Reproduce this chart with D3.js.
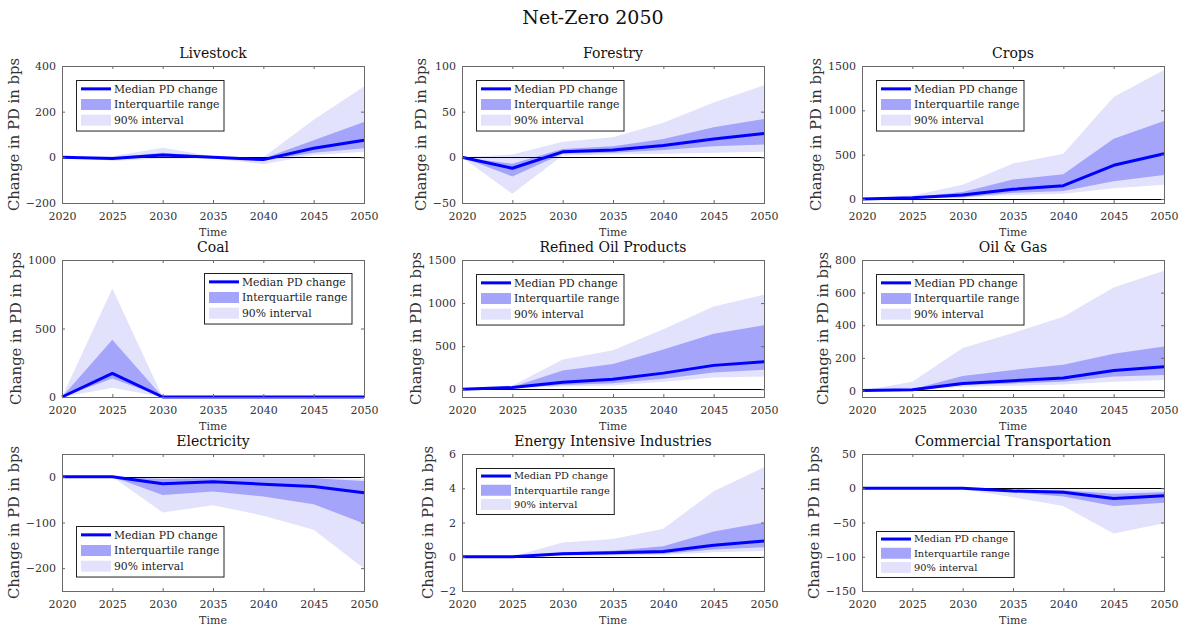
<!DOCTYPE html>
<html lang="en">
<head>
<meta charset="UTF-8">
<title>Net-Zero 2050</title>
<script src="https://cdnjs.cloudflare.com/ajax/libs/d3/7.8.4/d3.min.js"></script>
<style>
  body { margin: 0; background: #fff; }
  svg text { font-family: "DejaVu Serif", "Liberation Serif", serif; }
</style>
</head>
<body>
<div id="chart"></div>
<script>
// ---- data ----
const years = [2020, 2025, 2030, 2035, 2040, 2045, 2050];
const sectors = ["Livestock", "Forestry", "Crops", "Coal", "Refined Oil Products", "Oil & Gas",
  "Electricity", "Energy Intensive Industries", "Commercial Transportation"];

const medianPD = [
  [0, -5, 10, 0, -10, 40, 75],
  [0, -12, 6, 8, 13, 20, 26],
  [0, 15, 45, 110, 150, 380, 510],
  [0, 172, 0, 0, 0, 0, 0],
  [0, 20, 82, 117, 187, 277, 320],
  [0, 5, 43, 60, 76, 122, 146],
  [0, 0, -15, -11, -16, -21, -35],
  [0, 0, 0.17, 0.23, 0.3, 0.67, 0.92],
  [0, 0, 0, -4, -6, -15, -11]
];
const iqrLow = [
  [0, -8, 0, -3, -15, 20, 40],
  [0, -21, 4, 5, 8, 12, 14],
  [0, 10, 20, 70, 90, 200, 270],
  [0, 135, 0, 0, 0, 0, 0],
  [0, 15, 50, 70, 121, 195, 227],
  [0, 3, 33, 43, 54, 85, 95],
  [0, 0, -40, -32, -43, -60, -102],
  [0, 0, 0.1, 0.13, 0.18, 0.42, 0.56],
  [0, 0, 0, -6, -12, -26, -21]
];
const iqrHigh = [
  [0, -2, 20, 3, -5, 75, 155],
  [0, -7, 9, 12, 20, 33, 42],
  [0, 20, 80, 220, 280, 680, 880],
  [0, 418, 0, 0, 0, 0, 0],
  [0, 25, 219, 293, 461, 645, 742],
  [0, 8, 89, 126, 157, 225, 270],
  [0, 0, -5, -3, -3, -3, -9],
  [0, 0, 0.25, 0.35, 0.62, 1.48, 2.0],
  [0, 0, 0, -2, -3, -8, -6]
];
const p5 = [
  [0, -15, -5, -5, -30, 10, 25],
  [0, -40, 2, 3, 4, 5, 6],
  [0, 5, 15, 45, 60, 120, 160],
  [0, 68, 0, 0, 0, 0, 0],
  [0, 10, 31, 43, 86, 137, 148],
  [0, 1, 23, 29, 37, 54, 64],
  [0, 0, -78, -62, -85, -116, -201],
  [0, 0, 0.05, 0.07, 0.1, 0.27, 0.33],
  [0, 0, -1, -13, -26, -66, -51]
];
const p95 = [
  [0, 5, 42, 5, 0, 165, 310],
  [0, 3, 17, 22, 38, 60, 79],
  [0, 40, 160, 400, 510, 1150, 1455],
  [0, 792, 0, 0, 0, 0, 0],
  [0, 40, 344, 453, 695, 961, 1098],
  [0, 54, 260, 353, 452, 631, 734],
  [0, 0, -1, -1, -1, -1, -5],
  [0, 0.02, 0.83, 1.04, 1.63, 3.83, 5.23],
  [0, 0, 0, -1, -1, -3, -3]
];
const yLimits = [[-200, 400], [-50, 100], [-45, 1500], [0, 1000], [-90, 1500], [-40, 800],
  [-250, 50], [-2, 6], [-150, 50]];
const yTicks = [
  [-200, 0, 200, 400], [-50, 0, 50, 100], [0, 500, 1000, 1500], [0, 500, 1000],
  [0, 500, 1000, 1500], [0, 200, 400, 600, 800], [-200, -100, 0], [-2, 0, 2, 4, 6],
  [-150, -100, -50, 0, 50]
];
const legendLabels = ["Median PD change", "Interquartile range", "90% interval"];

// ---- layout ----
const W = 1186, H = 630;
const colLeft = [62, 462, 862];
const rowTop = [66, 260, 454];
const plotW = 302, plotH = 137;
const legendCorner = ["nw", "nw", "nw", "ne", "nw", "nw", "sw", "nw", "sw"];
const legendFont = [10.8, 10.8, 10.8, 10.8, 10.8, 10.8, 10.8, 9.8, 9.8];
const serif = '"DejaVu Serif", "Liberation Serif", serif';

const blue = "#0000ff", iqrColor = "#a4a4fa", band90 = "#e2e2fc";
const frameColor = "#6a6a6a", textColor = "#333";

const svg = d3.select("#chart").append("svg")
  .attr("width", W).attr("height", H);

svg.append("text")
  .attr("x", 593).attr("y", 24)
  .attr("text-anchor", "middle")
  .attr("font-size", 19)
  .attr("fill", "#111")
  .text("Net-Zero 2050");

sectors.forEach((name, i) => {
  const col = i % 3, row = Math.floor(i / 3);
  const left = colLeft[col], top = rowTop[row];

  const x = d3.scaleLinear().domain([2020, 2050]).range([0, plotW]);
  const y = d3.scaleLinear().domain(yLimits[i]).range([plotH, 0]);

  const g = svg.append("g").attr("transform", `translate(${left},${top})`);

  g.append("clipPath").attr("id", "clip" + i)
    .append("rect").attr("width", plotW).attr("height", plotH);

  g.append("rect").attr("width", plotW).attr("height", plotH).attr("fill", "#fff");

  const plot = g.append("g").attr("clip-path", `url(#clip${i})`);

  const idx = d3.range(years.length);
  const band = (lo, hi) => d3.area()
    .x(k => x(years[k]))
    .y0(k => y(lo[k]))
    .y1(k => y(hi[k]));

  plot.append("path")
    .attr("d", band(p5[i], p95[i])(idx))
    .attr("fill", band90);
  plot.append("path")
    .attr("d", band(iqrLow[i], iqrHigh[i])(idx))
    .attr("fill", iqrColor);

  plot.append("line")
    .attr("x1", 0).attr("x2", plotW)
    .attr("y1", Math.round(y(0)) + 0.5).attr("y2", Math.round(y(0)) + 0.5)
    .attr("stroke", "#000").attr("stroke-width", 1);

  g.append("path")
    .attr("d", d3.line().x(k => x(years[k])).y(k => y(medianPD[i][k]))(idx))
    .attr("fill", "none")
    .attr("stroke", blue)
    .attr("stroke-width", 3)
    .attr("stroke-linejoin", "round");

  // axes (ticks inward, on all sides)
  g.append("g").attr("transform", `translate(0,${plotH})`)
    .call(d3.axisBottom(x).tickValues(years).tickFormat(d3.format("d"))
      .tickSizeInner(-3).tickSizeOuter(0).tickPadding(9));
  g.append("g").call(d3.axisTop(x).tickValues(years).tickFormat("")
    .tickSizeInner(-3).tickSizeOuter(0));
  const ya = g.append("g")
    .call(d3.axisLeft(y).tickValues(yTicks[i]).tickFormat(d3.format("d"))
      .tickSizeInner(-3).tickSizeOuter(0).tickPadding(6));
  g.append("g").attr("transform", `translate(${plotW},0)`)
    .call(d3.axisRight(y).tickValues(yTicks[i]).tickFormat("")
      .tickSizeInner(-3).tickSizeOuter(0));

  g.selectAll(".domain").remove();
  g.selectAll(".tick line").attr("stroke", frameColor);
  g.selectAll(".tick text")
    .style("font-family", serif)
    .style("font-size", "11px")
    .attr("fill", textColor);

  g.append("rect")
    .attr("x", 0.5).attr("y", 0.5)
    .attr("width", plotW).attr("height", plotH)
    .attr("fill", "none").attr("stroke", frameColor);

  // labels
  const tickLeft = ya.node().getBBox().x;
  g.append("text")
    .attr("transform", `translate(${tickLeft - 7},${plotH / 2}) rotate(-90)`)
    .attr("text-anchor", "middle")
    .attr("font-size", 14.8)
    .attr("fill", textColor)
    .text("Change in PD in bps");

  g.append("text")
    .attr("x", plotW / 2).attr("y", plotH + 33)
    .attr("text-anchor", "middle")
    .attr("font-size", 11)
    .attr("fill", textColor)
    .text("Time");

  g.append("text")
    .attr("x", plotW / 2).attr("y", -8.5)
    .attr("text-anchor", "middle")
    .attr("font-size", 14)
    .attr("fill", "#111")
    .text(name);

  // legend
  const fs = legendFont[i];
  const rowH = fs * 1.45;
  const pad = fs * 0.82;
  const leg = g.append("g");
  const box = leg.append("rect").attr("fill", "#fff").attr("stroke", "#222").attr("stroke-width", 1);
  let maxW = 0;
  legendLabels.forEach((lab, r) => {
    const cy = pad + r * rowH;
    if (r === 0) {
      leg.append("line").attr("x1", 5).attr("x2", 35).attr("y1", cy).attr("y2", cy)
        .attr("stroke", blue).attr("stroke-width", 3);
    } else {
      leg.append("rect").attr("x", 5).attr("y", cy - 5.5).attr("width", 30).attr("height", 11)
        .attr("fill", r === 1 ? iqrColor : band90);
    }
    const t = leg.append("text").attr("x", 38).attr("y", cy).attr("dy", "0.35em")
      .style("font-family", serif)
      .attr("font-size", fs).attr("fill", "#222").text(lab);
    maxW = Math.max(maxW, t.node().getComputedTextLength());
  });
  const bw = 38 + maxW + 4, bh = 2 * pad + 2 * rowH + 1.5;
  box.attr("x", 0.5).attr("y", 0.5).attr("width", bw).attr("height", bh);
  let lx = 14, ly = 14;
  if (legendCorner[i] === "ne") { lx = plotW - 13 - bw; ly = 13; }
  if (legendCorner[i] === "sw") { ly = plotH - 14 - bh; }
  leg.attr("transform", `translate(${Math.round(lx)},${Math.round(ly)})`);
});

svg.selectAll("text").style("font-family", serif);
</script>
</body>
</html>
